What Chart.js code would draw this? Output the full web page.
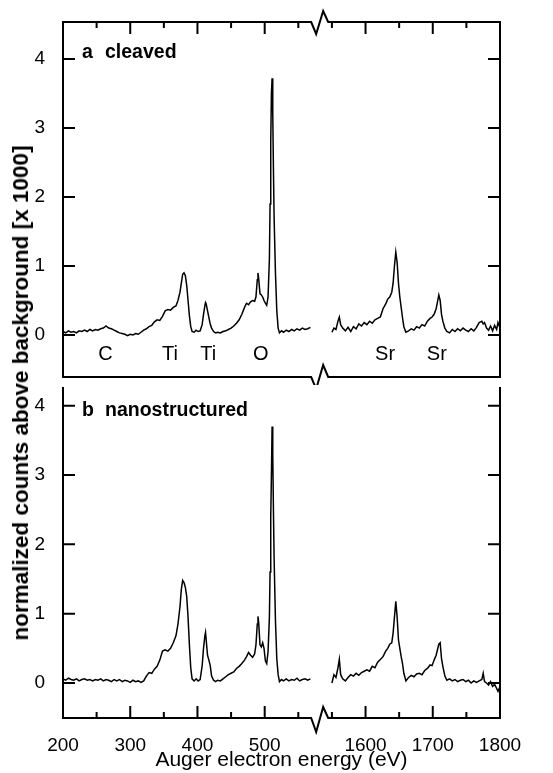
<!DOCTYPE html>
<html>
<head>
<meta charset="utf-8">
<script src="https://cdn.jsdelivr.net/npm/chart.js@4.4.1/dist/chart.umd.min.js"></script>
<style>
  html, body { margin: 0; padding: 0; background: #fff; }
  #wrap { position: relative; width: 553px; height: 773px; overflow: hidden; }
  canvas { position: absolute; left: 0; }
  #panelA { top: 0; }
  #panelB { top: 380px; }
  #ylabel {
    position: absolute; left: 21px; top: 393px;
    transform: translate(-50%, -50%) rotate(-90deg);
    font: bold 22.5px "Liberation Sans", Arial, Helvetica, sans-serif;
    white-space: nowrap; color: #000;
  }
</style>
</head>
<body>
<div id="wrap">
  <canvas id="panelA" width="553" height="385"></canvas>
  <canvas id="panelB" width="553" height="393"></canvas>
  <div id="ylabel">normalized counts above background [x 1000]</div>
</div>
<script>
// Auger energies (eV), low range and high range either side of the axis break
const energyLow = [
  200, 204, 208, 212, 216, 220, 224, 228, 232, 236,
  240, 244, 248, 252, 256, 260, 264, 268, 272, 276,
  280, 284, 288, 292, 296, 300, 304, 308, 312, 316,
  320, 324, 328, 332, 336, 340, 344, 348, 352, 356,
  360, 364, 368, 371, 374, 376, 378, 380, 382, 384,
  386, 388, 390, 392, 395, 398, 401, 404, 407, 409,
  411, 412, 413, 415, 417, 419, 421, 424, 427, 430,
  434, 438, 442, 446, 450, 454, 458, 462, 466, 470,
  473, 476, 479, 482, 485, 487, 489, 490, 491, 493,
  495, 497, 499, 501, 503, 505, 507, 508, 509, 510,
  511, 512, 513, 514, 516, 518, 520, 522, 525, 528,
  532, 536, 540, 544, 548, 552, 556, 560, 564, 568
];
const energyHigh = [
  1550, 1553, 1556, 1559, 1561, 1563, 1566, 1570, 1574, 1578,
  1582, 1586, 1590, 1594, 1598, 1602, 1606, 1610, 1614, 1618,
  1622, 1626, 1630, 1633, 1636, 1639, 1641, 1643, 1645, 1647,
  1649, 1651, 1653, 1655, 1657, 1660, 1664, 1668, 1672, 1676,
  1680, 1684, 1688, 1692, 1696, 1699, 1702, 1705, 1707, 1709,
  1711, 1713, 1715, 1718, 1721, 1725, 1729, 1733, 1737, 1741,
  1745, 1749, 1753, 1757, 1761, 1765, 1769, 1773, 1775, 1777,
  1780, 1783, 1786, 1789, 1792, 1795, 1797, 1800
];

// panel a: cleaved surface (counts x 1000)
const cleavedLow = [
  0.05, 0.03, 0.06, 0.04, 0.05, 0.03, 0.06, 0.05, 0.07, 0.05,
  0.08, 0.06, 0.08, 0.07, 0.09, 0.10, 0.13, 0.10, 0.09, 0.07,
  0.05, 0.03, 0.02, 0.01, -0.01, 0.01, 0.00, 0.02, 0.01, 0.04,
  0.07, 0.09, 0.12, 0.14, 0.19, 0.22, 0.21, 0.27, 0.35, 0.37,
  0.36, 0.40, 0.42, 0.50, 0.62, 0.75, 0.88, 0.90, 0.86, 0.72,
  0.50, 0.28, 0.12, 0.05, 0.04, 0.07, 0.05, 0.06, 0.15, 0.30,
  0.42, 0.47, 0.45, 0.35, 0.25, 0.16, 0.10, 0.05, 0.03, 0.04,
  0.03, 0.05, 0.06, 0.08, 0.10, 0.13, 0.17, 0.22, 0.30, 0.40,
  0.46, 0.44, 0.48, 0.50, 0.49, 0.55, 0.80, 0.90, 0.82, 0.60,
  0.58, 0.55, 0.50, 0.46, 0.43, 0.55, 1.10, 1.90, 2.80, 3.50,
  3.72, 3.20, 2.40, 1.70, 0.90, 0.35, 0.10, 0.03, 0.06, 0.04,
  0.07, 0.05, 0.08, 0.06, 0.09, 0.07, 0.10, 0.08, 0.09, 0.11
];
const cleavedHigh = [
  0.04, 0.10, 0.08, 0.20, 0.26, 0.15, 0.10, 0.06, 0.11, 0.05,
  0.12, 0.09, 0.16, 0.13, 0.18, 0.15, 0.20, 0.17, 0.22, 0.24,
  0.26, 0.38, 0.45, 0.52, 0.55, 0.62, 0.75, 1.00, 1.20, 1.05,
  0.75, 0.55, 0.40, 0.25, 0.12, 0.04, 0.06, 0.09, 0.07, 0.12,
  0.10, 0.15, 0.13, 0.20, 0.24, 0.26, 0.30, 0.38, 0.48, 0.58,
  0.50, 0.30, 0.20, 0.10, 0.05, 0.03, 0.08, 0.05, 0.09, 0.06,
  0.10, 0.07, 0.05, 0.09, 0.06, 0.11, 0.18, 0.20, 0.16, 0.18,
  0.10, 0.07, 0.13, 0.06, 0.14, 0.08, 0.18, 0.10
];

// panel b: nanostructured surface
const nanoLow = [
  0.06, 0.04, 0.07, 0.05, 0.04, 0.06, 0.03, 0.05, 0.06, 0.04,
  0.05, 0.03, 0.05, 0.04, 0.06, 0.03, 0.05, 0.04, 0.02, 0.05,
  0.03, 0.05, 0.02, 0.04, 0.03, 0.01, 0.04, 0.02, 0.03, 0.01,
  0.03, 0.10, 0.15, 0.14, 0.20, 0.24, 0.33, 0.46, 0.48, 0.46,
  0.50, 0.58, 0.68, 0.85, 1.10, 1.35, 1.48, 1.45, 1.38, 1.25,
  0.95, 0.55, 0.22, 0.06, 0.03, 0.06, 0.03, 0.05, 0.25, 0.50,
  0.68, 0.73, 0.62, 0.40, 0.33, 0.25, 0.10, 0.04, 0.02, 0.04,
  0.03, 0.06, 0.09, 0.12, 0.14, 0.16, 0.21, 0.24, 0.28, 0.33,
  0.38, 0.44, 0.40, 0.37, 0.42, 0.55, 0.85, 0.96, 0.88, 0.55,
  0.52, 0.58, 0.50, 0.32, 0.28, 0.45, 0.95, 1.60, 2.40, 3.00,
  3.70, 3.30, 2.50, 1.80, 0.90, 0.35, 0.12, 0.02, 0.05, 0.03,
  0.06, 0.03, 0.05, 0.04, 0.07, 0.03, 0.05, 0.06, 0.04, 0.06
];
const nanoHigh = [
  0.00, 0.12, 0.08, 0.22, 0.34, 0.12, 0.06, 0.03, 0.08, 0.12,
  0.10, 0.14, 0.11, 0.15, 0.17, 0.19, 0.17, 0.24, 0.22, 0.30,
  0.34, 0.38, 0.46, 0.50, 0.56, 0.58, 0.72, 0.95, 1.18, 0.95,
  0.62, 0.50, 0.38, 0.28, 0.14, 0.03, 0.08, 0.11, 0.09, 0.13,
  0.14, 0.12, 0.18, 0.21, 0.26, 0.25, 0.33, 0.40, 0.48, 0.56,
  0.58, 0.35, 0.24, 0.10, 0.04, 0.06, 0.03, 0.05, 0.02, 0.04,
  0.05, 0.02, 0.04, 0.00, 0.03, 0.01, 0.03, 0.05, 0.14, 0.02,
  0.00, -0.03, 0.02, -0.05, -0.02, -0.08, -0.12, -0.05
];

const xTicks = [200, 300, 400, 500, 1600, 1700, 1800];
const xMinorTicks = [250, 350, 450, 550, 1550, 1650, 1750];
const yTicks = [0, 1, 2, 3, 4];
const elementNames = ['C', 'Ti', 'Ti', 'O', 'Sr', 'Sr'];
const elementEnergies = [263, 359, 416, 494, 1629, 1706];

// axis break: everything from 1000 eV up is shifted left by GAP_SHIFT
const X_MIN = 200, X_MAX = 1800, GAP_START = 1000, GAP_SHIFT = 950, BREAK_AT = 584;
const FONT = '"Liberation Sans", Arial, Helvetica, sans-serif';

Chart.defaults.font.family = FONT;
Chart.defaults.color = '#000';

class BrokenEnergyScale extends Chart.LinearScale {
  fold(v) { return v >= GAP_START ? v - GAP_SHIFT : v; }
  determineDataLimits() {
    this.min = X_MIN;
    this.max = this.fold(X_MAX);
  }
  buildTicks() { return xTicks.map(v => ({ value: v })); }
  getPixelForValue(v) { return super.getPixelForValue(this.fold(v)); }
}
BrokenEnergyScale.id = 'brokenEnergy';
BrokenEnergyScale.defaults = {};
Chart.register(BrokenEnergyScale);

// frame with inward ticks, break marks and text labels
const framePlugin = {
  id: 'frame',
  afterDatasetsDraw(chart, args, o) {
    const { ctx, chartArea: a, scales: { x, y } } = chart;
    const bx = x.getPixelForValue(BREAK_AT);
    ctx.save();
    ctx.strokeStyle = '#000';
    ctx.lineWidth = 2;
    ctx.lineJoin = 'miter';

    ctx.beginPath();
    ctx.moveTo(a.left, o.topEdge ? a.top - 1 : a.top);
    ctx.lineTo(a.left, a.bottom + 1);
    ctx.moveTo(a.right, o.topEdge ? a.top - 1 : a.top);
    ctx.lineTo(a.right, a.bottom + 1);
    ctx.stroke();

    const edge = (yy, down, up) => {
      ctx.beginPath();
      ctx.moveTo(a.left, yy);
      ctx.lineTo(bx - 10, yy);
      ctx.lineTo(bx - 5, yy + down);
      ctx.lineTo(bx + 2, yy - up);
      ctx.lineTo(bx + 7, yy);
      ctx.lineTo(a.right, yy);
      ctx.stroke();
    };
    if (o.topEdge) edge(a.top, 12, 11);
    edge(a.bottom, o.breakDown, o.breakUp);

    // x ticks on the labelled edge
    const ty = o.tickEdge === 'top' ? a.top : a.bottom;
    const dir = o.tickEdge === 'top' ? 1 : -1;
    ctx.beginPath();
    xTicks.forEach(v => {
      const px = x.getPixelForValue(v);
      if (px <= a.left + 1 || px >= a.right - 1) return;
      ctx.moveTo(px, ty); ctx.lineTo(px, ty + dir * 12);
    });
    xMinorTicks.forEach(v => {
      const px = x.getPixelForValue(v);
      ctx.moveTo(px, ty); ctx.lineTo(px, ty + dir * 6);
    });
    yTicks.forEach(v => {
      const py = y.getPixelForValue(v);
      ctx.moveTo(a.left, py); ctx.lineTo(a.left + 12, py);
      ctx.moveTo(a.right, py); ctx.lineTo(a.right - 12, py);
    });
    ctx.stroke();

    // panel letter and name
    ctx.fillStyle = '#000';
    ctx.textBaseline = 'alphabetic';
    ctx.textAlign = 'left';
    ctx.font = 'bold 19.5px ' + FONT;
    ctx.fillText(o.letter, a.left + 19, a.top + o.labelDy);
    ctx.fillText(o.name, a.left + 42, a.top + o.labelDy);

    if (o.elements) {
      ctx.font = '20px ' + FONT;
      ctx.textAlign = 'center';
      const ly = y.getPixelForValue(-0.36);
      elementNames.forEach((n, i) => ctx.fillText(n, x.getPixelForValue(elementEnergies[i]), ly));
    }
    ctx.restore();
  }
};

function spectrumChart(id, low, high, yMin, yMax, padTop, padBottom, showX, frame) {
  const line = (xs, ys) => ({
    data: xs.map((e, i) => ({ x: e, y: ys[i] })),
    borderColor: '#000',
    borderWidth: 1.5,
    pointRadius: 0,
    tension: 0,
    fill: false
  });
  return new Chart(document.getElementById(id), {
    type: 'line',
    data: { datasets: [line(energyLow, low), line(energyHigh, high)] },
    options: {
      responsive: false,
      animation: false,
      events: [],
      layout: { padding: { top: padTop, right: 53, bottom: padBottom, left: 0 } },
      plugins: { legend: { display: false }, tooltip: { enabled: false }, frame },
      scales: {
        x: {
          type: 'brokenEnergy',
          position: 'bottom',
          grid: { display: false },
          border: { display: false },
          ticks: {
            display: showX,
            autoSkip: false,
            maxRotation: 0,
            padding: 8,
            font: { size: 19 },
            callback: v => String(v)
          },
          title: {
            display: showX,
            text: 'Auger electron energy (eV)',
            font: { size: 21 },
            padding: { top: 0, bottom: 0 }
          },
          afterFit: s => {
            s.height = showX ? 55 : 0;
            s.paddingLeft = 0; s.paddingRight = 0;
          }
        },
        y: {
          type: 'linear',
          min: yMin,
          max: yMax,
          bounds: 'data',
          grid: { display: false },
          border: { display: false },
          ticks: { padding: 10, font: { size: 19 } },
          afterBuildTicks: s => { s.ticks = yTicks.map(v => ({ value: v })); },
          afterFit: s => {
            s.width = 63;
            s.paddingTop = 0; s.paddingBottom = 0;
          }
        }
      }
    },
    plugins: [framePlugin]
  });
}

spectrumChart('panelA', cleavedLow, cleavedHigh, -0.609, 4.536, 22, 8, false,
  { topEdge: true, tickEdge: 'top', breakDown: 12, breakUp: 12,
    letter: 'a', name: 'cleaved', labelDy: 36, elements: true });

spectrumChart('panelB', nanoLow, nanoHigh, -0.505, 4.27, 7, 0, true,
  { topEdge: false, tickEdge: 'bottom', breakDown: 14, breakUp: 11,
    letter: 'b', name: 'nanostructured', labelDy: 29, elements: false });
</script>
</body>
</html>
